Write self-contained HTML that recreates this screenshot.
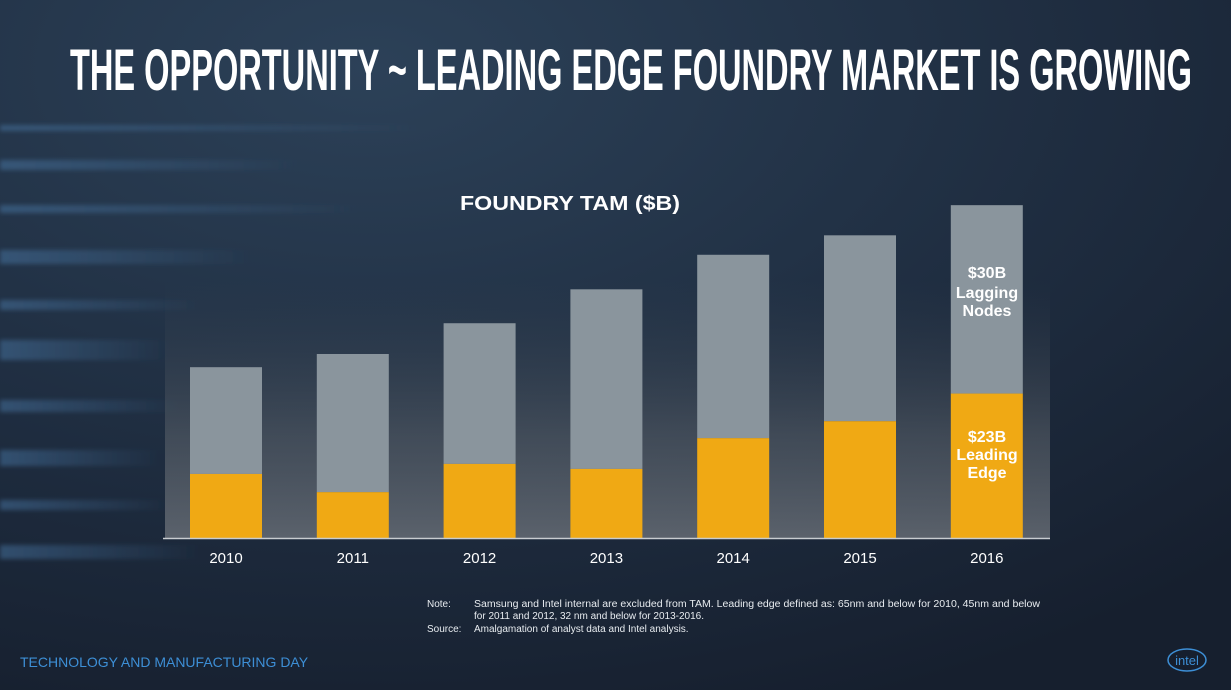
<!DOCTYPE html>
<html><head><meta charset="utf-8"><style>
html,body{margin:0;padding:0;width:1231px;height:690px;overflow:hidden;background:#1b2637;}
svg{display:block}
</style></head><body>
<svg id="chart" width="1231" height="690" xmlns="http://www.w3.org/2000/svg">
<defs>
<radialGradient id="bg" cx="0.3" cy="0.1" r="1">
<stop offset="0" stop-color="#2c4158"/><stop offset="0.6" stop-color="#1e2c3f"/><stop offset="1" stop-color="#161f2e"/>
</radialGradient>
<linearGradient id="streak" x1="0" x2="1"><stop offset="0" stop-color="#4d7fb0" stop-opacity="0.45"/><stop offset="1" stop-color="#4d7fb0" stop-opacity="0"/></linearGradient>
<linearGradient id="plotbg" x1="0" y1="0" x2="0" y2="1"><stop offset="0" stop-color="#3a4450" stop-opacity="0"/><stop offset="0.6" stop-color="#5c636b" stop-opacity="0.55"/><stop offset="1" stop-color="#6a7078" stop-opacity="0.8"/></linearGradient>
<filter id="blur"><feGaussianBlur stdDeviation="2"/></filter>
</defs>
<rect width="1231" height="690" fill="url(#bg)"/>
<g filter="url(#blur)">
<rect x="0" y="125" width="420" height="6" fill="url(#streak)"/>
<rect x="0" y="160" width="300" height="10" fill="url(#streak)"/>
<rect x="0" y="205" width="360" height="8" fill="url(#streak)"/>
<rect x="0" y="250" width="250" height="14" fill="url(#streak)"/>
<rect x="0" y="300" width="200" height="10" fill="url(#streak)"/>
<rect x="0" y="340" width="170" height="20" fill="url(#streak)"/>
<rect x="0" y="400" width="180" height="12" fill="url(#streak)"/>
<rect x="0" y="450" width="160" height="16" fill="url(#streak)"/>
<rect x="0" y="500" width="170" height="10" fill="url(#streak)"/>
<rect x="0" y="545" width="200" height="14" fill="url(#streak)"/>
</g>
<text x="70" y="90" textLength="1122" lengthAdjust="spacingAndGlyphs" font-family="Liberation Sans, sans-serif" font-weight="bold" font-size="58" fill="#ffffff">THE OPPORTUNITY ~ LEADING EDGE FOUNDRY MARKET IS GROWING</text>
<rect x="165" y="280" width="885" height="258" fill="url(#plotbg)"/>
<text x="460" y="210" textLength="220" lengthAdjust="spacingAndGlyphs" font-family="Liberation Sans, sans-serif" font-weight="bold" font-size="20" fill="#ffffff">FOUNDRY TAM  ($B)</text>
<g id="bars"></g>
<line x1="163" y1="538.5" x2="1050" y2="538.5" stroke="#c8ccd0" stroke-width="1.5"/>
<g id="xlabels"></g>
<g font-family="Liberation Sans, sans-serif" font-weight="bold" font-size="16" fill="#ffffff" text-anchor="middle">
<text x="987" y="278">$30B</text>
<text x="987" y="298">Lagging</text>
<text x="987" y="316">Nodes</text>
<text x="987" y="442">$23B</text>
<text x="987" y="460">Leading</text>
<text x="987" y="478">Edge</text>
</g>
<g font-family="Liberation Sans, sans-serif" font-size="10" fill="#e8ecf0">
<text x="427" y="607">Note:</text>
<text x="474" y="607" textLength="566" lengthAdjust="spacingAndGlyphs">Samsung and Intel internal are excluded from TAM. Leading edge defined as:  65nm and below for 2010, 45nm and below</text>
<text x="474" y="619">for 2011 and 2012, 32 nm and below for 2013-2016.</text>
<text x="427" y="632">Source:</text>
<text x="474" y="632">Amalgamation of analyst data and Intel analysis.</text>
</g>
<text x="20" y="667" font-family="Liberation Sans, sans-serif" font-size="14" fill="#3d8fd6">TECHNOLOGY AND MANUFACTURING DAY</text>
<g>
<ellipse cx="1187" cy="660" rx="19" ry="11" fill="none" stroke="#3d8fd6" stroke-width="1.5"/>
<text x="1187" y="665" text-anchor="middle" font-family="Liberation Sans, sans-serif" font-size="13" fill="#3d8fd6">intel</text>
</g>
</svg>
<script>
const categories=["2010","2011","2012","2013","2014","2015","2016"];
const leadingEdge=[10.2,7.3,11.8,11.0,15.9,18.6,23];
const laggingNodes=[17.0,22.0,22.4,28.6,29.2,29.6,30];
const NS="http://www.w3.org/2000/svg";
const baseY=538, pxPerB=6.28, x0=226, step=126.8, bw=72;
const y=v=>baseY-v*pxPerB;
const xc=i=>x0+i*step;
const bars=document.getElementById('bars'), xl=document.getElementById('xlabels');
categories.forEach((c,i)=>{
  const lead=leadingEdge[i], lag=laggingNodes[i];
  const r1=document.createElementNS(NS,'rect');
  
  
  r1.setAttribute('x',xc(i)-bw/2);r1.setAttribute('width',bw);
  r1.setAttribute('y',y(lead+lag));r1.setAttribute('height',lag*pxPerB);
  r1.setAttribute('fill','#8a959d');bars.appendChild(r1);
  const r2=document.createElementNS(NS,'rect');
  
  
  r2.setAttribute('x',xc(i)-bw/2);r2.setAttribute('width',bw);
  r2.setAttribute('y',y(lead));r2.setAttribute('height',lead*pxPerB);
  r2.setAttribute('fill','#f0a914');bars.appendChild(r2);
  const t=document.createElementNS(NS,'text');
  
  
  t.setAttribute('x',xc(i));t.setAttribute('y',563);t.setAttribute('text-anchor','middle');
  t.setAttribute('font-family','Liberation Sans, sans-serif');t.setAttribute('font-size','15');t.setAttribute('fill','#ffffff');
  t.textContent=c;xl.appendChild(t);
});
</script>
</body></html>
